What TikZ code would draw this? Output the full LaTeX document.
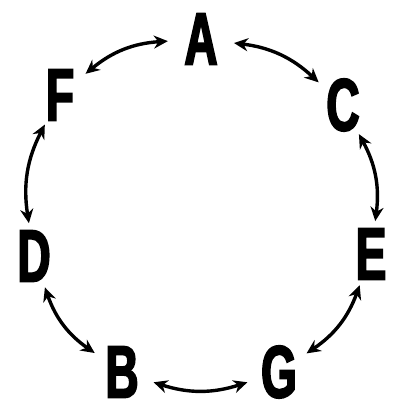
\documentclass[tikz,border=0pt]{standalone}
\usepackage{fontspec}
\newfontfamily\letterfont{Liberation Sans Bold}[FakeStretch=0.62,FakeBold=2.5]
\usetikzlibrary{arrows.meta}

\begin{document}
\begin{tikzpicture}[x=1pt,y=-1pt,
  letter/.style={circle,inner sep=0pt,minimum size=66pt,
    font=\letterfont\fontsize{74}{74}\selectfont},
  link/.style={{Stealth[length=14pt,width=13pt,inset=4.5pt]}-{Stealth[length=14pt,width=13pt,inset=4.5pt]},
    line width=3.4pt,bend right=18}]
  \useasboundingbox (0,0) rectangle (392,405);
  % letters round the ring
  \node[letter] (a) at (201,39) {A};
  \node[letter] (c) at (343,105) {C};
  \node[letter] (e) at (371,254) {E};
  \node[letter] (g) at (279,372) {G};
  \node[letter] (b) at (122,372) {B};
  \node[letter] (d) at (34,256) {D};
  \node[letter] (f) at (60,95) {F};
  % two-way links
  \draw[link] (a) to (f);
  \draw[link] (f) to (d);
  \draw[link] (d) to (b);
  \draw[link] (b) to (g);
  \draw[link] (g) to (e);
  \draw[link] (e) to (c);
  \draw[link] (c) to (a);
\end{tikzpicture}
\end{document}
